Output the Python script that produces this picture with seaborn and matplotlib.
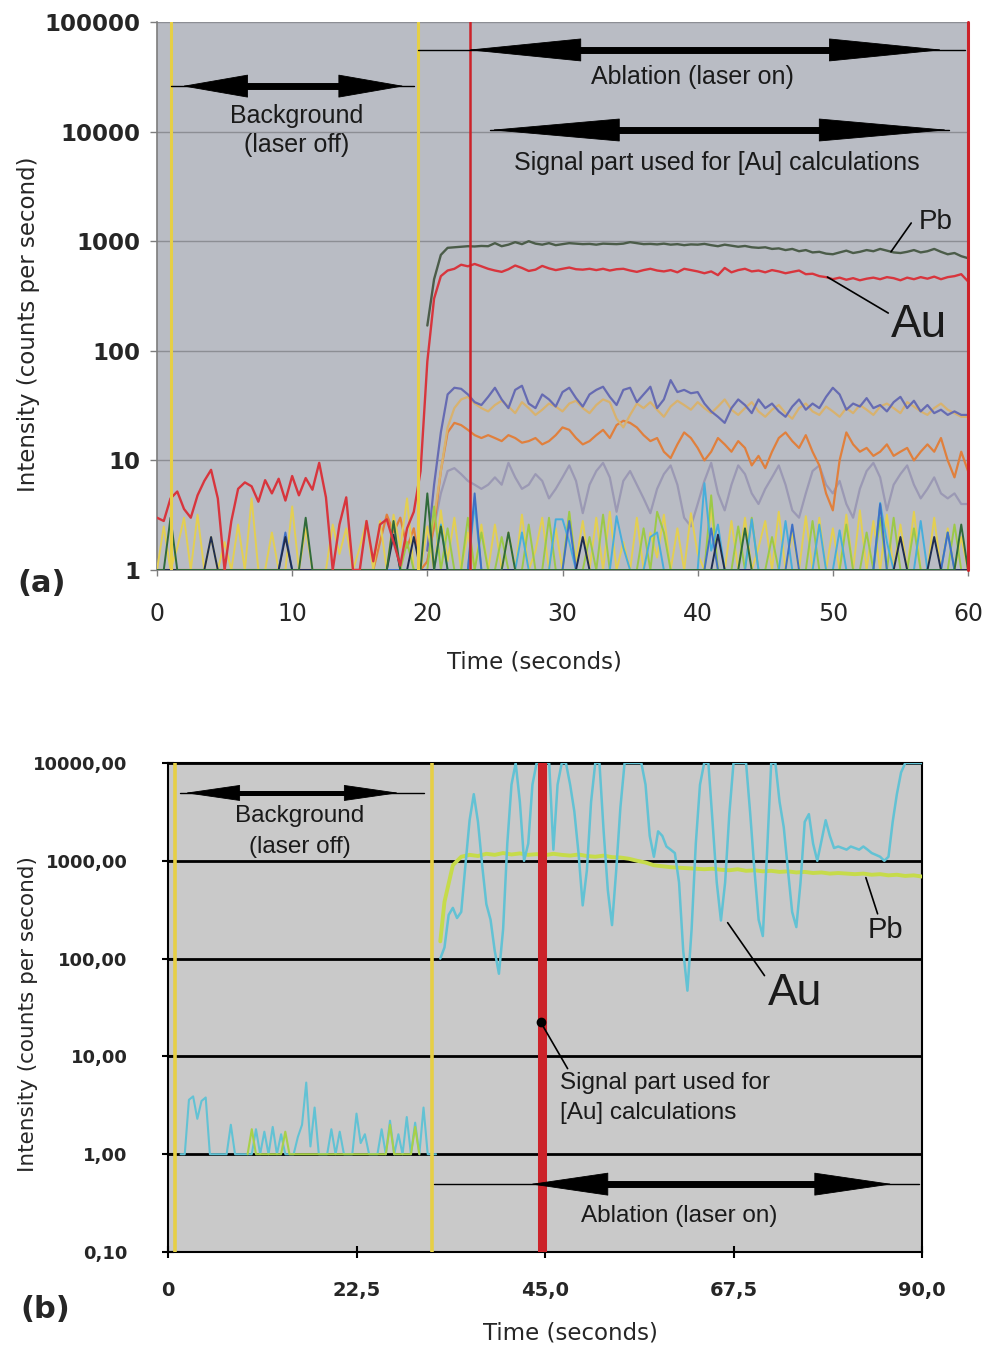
import numpy as np
import seaborn as sns
import matplotlib.pyplot as plt
from matplotlib.ticker import FixedLocator, NullLocator


# =========================
# Panel (a) data  (0.5 s samples)
# =========================

time_a = np.arange(0, 60.5, 0.5)        # 0 .. 60 s
time_a_on = np.arange(20, 60.5, 0.5)    # laser on part, 20 .. 60 s

au_a = [
    3.0, 2.8, 4.5, 5.2, 3.6, 3.0, 4.8, 6.5, 8.2, 4.5,
    1.0, 2.8, 5.5, 6.3, 5.8, 4.2, 6.6, 5.0, 6.8, 4.3,
    7.2, 4.8, 6.9, 5.4, 9.5, 4.6, 1.0, 2.6, 4.6, 1.0,
    1.0, 2.8, 1.2, 2.6, 2.9, 1.8, 1.1, 2.4, 3.4, 8.0,
    80, 300, 480, 540, 560, 610, 590, 620, 590, 560,
    540, 525, 555, 600, 570, 535, 550, 595, 565, 545,
    560, 575, 555, 550, 560, 545, 560, 540, 555, 560,
    540, 525, 545, 560, 540, 530, 545, 520, 560, 545,
    530, 510, 530, 490, 570, 520, 545, 560, 530, 540,
    520, 545, 530, 510, 525, 540, 500, 505, 480, 470,
    450, 465, 445, 460, 440, 455, 465, 450, 470, 460,
    440, 465, 450, 470, 455, 475, 450, 470, 480, 500,
    430,
]

pb_a = [
    170, 450, 750, 870, 880, 890, 900, 895, 905, 900,
    960, 900, 930, 980, 940, 1000, 950, 930, 960, 920,
    940, 960, 950, 940, 945, 930, 950, 945, 940, 950,
    980, 960, 940, 945, 935, 950, 930, 940, 920, 935,
    930, 945, 920, 900, 930, 910, 890, 905, 880, 870,
    880, 850, 860, 830, 850, 810, 830, 790, 800, 770,
    760, 790, 820, 780, 800, 830, 810, 850, 820, 790,
    780, 800, 830, 790, 810, 850, 800, 760, 780, 730,
    700,
]

slate_a = [
    1.5, 6, 18, 40, 46, 45, 40, 34, 32, 38,
    46, 36, 30, 44, 48, 33, 30, 40, 36, 31,
    42, 46, 37, 31, 40, 44, 47, 38, 32, 44,
    46, 34, 40, 47, 30, 36, 54, 42, 44, 41,
    42, 33, 28, 25, 22, 30, 36, 32, 27, 36,
    30, 33, 28, 25, 31, 36, 29, 33, 30, 38,
    46, 40, 29, 33, 31, 37, 30, 32, 28, 34,
    38, 30, 35, 28, 32, 27, 29, 26, 28, 26,
    26,
]

tan_a = [
    1.5, 3, 8, 20, 30, 36, 38, 33, 30, 28,
    32, 35, 31, 27, 34, 30, 26, 29, 33, 31,
    28, 33, 35, 30, 27, 32, 36, 34, 24, 20,
    26, 33, 30, 34, 29, 25, 31, 35, 32, 29,
    34, 30, 27, 31, 36, 29, 26, 30, 34, 28,
    25, 29, 32, 27, 24, 30, 33, 28, 26, 31,
    28, 25, 30, 27, 32, 29, 26, 31, 33, 30,
    27, 34, 31, 28, 26, 30, 33, 29, 27, 25,
    25,
]

orange_a = [
    1, 1, 1, 1, 1, 1, 1, 1, 1, 1,
    1, 1, 1, 1, 1, 1, 1, 1, 1, 1,
    1, 1, 1, 1, 1, 1, 1, 1, 1, 1,
    1, 1, 1, 1.8, 3.2, 2.2, 3.0, 1.6, 2.4, 1.0,
    1.2, 2.5, 8, 18, 22, 21, 19, 17, 16, 17,
    16, 15, 17, 16, 14.5, 15, 16, 14, 15, 17,
    20, 19, 16, 14, 15, 17, 19, 16, 21, 23,
    22, 20, 17, 15, 16, 12, 10.5, 14, 18, 16,
    13, 10, 12, 16, 14, 12, 15, 13, 9, 11,
    8.5, 12, 16, 18, 15, 13, 17, 12, 9, 5,
    3.5, 10, 18, 14, 12, 13, 11, 12, 14, 11,
    12, 13, 10, 12, 14, 12, 16, 10, 7, 12,
    8,
]

grey_a = [
    1.2, 2.5, 5, 8, 8.5, 7.5, 6.5, 6, 5.5, 6,
    7, 6, 9.5, 7, 5.5, 6, 7.5, 6.5, 4.5, 5.5,
    7, 9, 6.5, 3.3, 6, 8, 9.5, 7, 3.4, 6.5,
    8, 6, 4.5, 3.3, 5.5, 7.5, 9, 6, 3, 2.5,
    4, 6.5, 9.5, 5, 3.5, 6, 9, 7.5, 5, 4,
    5.5, 7, 9, 6, 3.5, 3, 5, 8, 9, 6,
    5, 6.5, 4, 3, 5.5, 8, 9.5, 7, 3.5, 6,
    7.5, 9, 6, 4.5, 5.5, 7, 5, 4.5, 5, 4,
    4,
]

# low-count elements (mostly at the 1 cps floor)
yellow_a = [
    1, 2.5, 1, 1.6, 3.0, 1, 3.2, 1, 2.0, 1,
    1.8, 1, 2.6, 1, 4.5, 1, 1, 2.2, 1, 1,
    3.8, 1, 2.4, 1, 1, 1, 2.6, 1.4, 2.4, 1,
    1.6, 2.8, 1, 2.8, 1, 3.2, 1.6, 4.5, 1, 1,
    2.5, 1, 3.5, 1.2, 3.0, 1, 2.2, 1, 2.6, 1,
    2.6, 1, 2.2, 1, 3.2, 1, 1.5, 3.0, 1, 2.4,
    1, 3.3, 1.2, 2.8, 1, 3.0, 1, 3.4, 1, 1.8,
    1, 3.0, 1, 2.2, 1.3, 3.2, 1, 2.4, 1, 3.3,
    1.4, 1, 3.6, 1, 1, 2.8, 1, 3.0, 1, 1.6,
    2.8, 1, 3.4, 1, 2.2, 1, 3.1, 1, 3.0, 1,
    2.4, 1, 3.2, 1, 3.5, 1, 2.8, 1, 3.2, 1,
    2.6, 1, 3.4, 1, 1, 3.0, 1, 2.4, 1, 2.0,
    1,
]

lime_a = [
    1, 1, 1, 1, 1, 1, 1, 1, 1, 1,
    1, 1, 1, 1, 1, 1, 1, 1, 1, 1,
    1, 1, 1, 1, 1, 1, 1, 1, 1, 1,
    1, 1, 1, 1, 1, 1, 1, 1.8, 1, 1,
    1, 3.8, 1, 2.4, 1, 1, 3.0, 1, 2.2, 1,
    1, 2.0, 1, 1, 1, 2.6, 1, 1, 3.0, 1,
    1, 3.4, 1, 1, 2.0, 1, 3.2, 1, 1, 1,
    1, 1, 2.4, 1, 3.4, 2.2, 1, 1, 1, 1,
    1, 1, 4.8, 1, 1, 1, 2.5, 1, 3.0, 1,
    1, 2.0, 1, 1, 1, 1, 1, 2.8, 1, 1,
    1, 1, 2.6, 1, 1, 2.2, 1, 3.0, 1, 3.0,
    1, 1, 2.4, 1, 1, 1, 1, 1, 2.6, 1,
    1,
]

cyan_a = [
    1, 1, 1, 1, 1, 1, 1, 1, 1, 1,
    1, 1, 1, 1, 1, 1, 1, 1, 1, 1,
    1, 1, 1, 1, 1, 1, 1, 1, 1, 1,
    1, 1, 1, 1, 1, 1, 1, 1, 1, 1,
    1, 1, 2.6, 1, 1, 1, 1, 4.0, 1, 1,
    1, 1, 1, 1, 2.2, 1, 1, 1, 1, 2.9,
    2.9, 1.8, 1, 1, 1, 1, 1, 1, 3.1, 1.6,
    1, 1, 1, 2.0, 2.2, 1, 1, 1, 1, 1,
    1, 6.2, 1.5, 2.6, 1, 1, 1, 1, 2.9, 1,
    1, 1, 1, 2.8, 1, 1, 1, 1, 2.6, 1,
    1, 2.3, 1, 1, 1, 1, 1, 4.1, 1.8, 1,
    1, 1, 1, 2.8, 1, 1, 1, 2.2, 1, 1,
    1,
]

blue_a = [
    1, 1, 1, 1, 1, 1, 1, 1, 1, 1,
    1, 1, 1, 1, 1, 1, 1, 1, 1, 2.2,
    1, 1, 1, 1, 1, 1, 1, 1, 1, 1,
    1, 1, 1, 1, 1, 1, 1, 1, 1, 1,
    1, 1, 1, 1, 1, 1, 1, 5.0, 1, 1,
    1, 1, 1, 1, 1, 1, 1, 1, 1, 1,
    1, 2.8, 1, 1, 1, 1, 1, 1, 1, 1,
    1, 1, 1, 1, 1, 1, 1, 1, 1, 1,
    1, 1, 2.4, 1, 1, 1, 1, 1, 1, 1,
    1, 1, 1, 1, 2.6, 1, 1, 1, 1, 1,
    1, 1, 1, 1, 1, 1, 1, 4.0, 1, 1,
    1, 1, 1, 1, 1, 1, 1, 2.2, 1, 1,
    1,
]

navy_a = [
    1, 1, 1, 1, 1, 1, 1, 1, 2.0, 1,
    1, 1, 1, 1, 1, 1, 1, 1, 1, 2.0,
    1, 1, 1, 1, 1, 1, 1, 1, 1, 1,
    1, 1, 1, 1, 1, 2.1, 1, 1, 2.0, 1,
    1, 1, 1, 1, 1, 1, 1, 1, 1, 1,
    1, 1, 1, 1, 1, 1, 1, 1, 1, 1,
    1, 1, 1, 2.0, 1, 1, 1, 1, 1, 1,
    1, 1, 1, 1, 1, 1, 1, 1, 1, 1,
    1, 1, 1, 2.1, 1, 1, 1, 1, 1, 1,
    1, 1, 1, 1, 1, 1, 1, 1, 1, 1,
    1, 1, 1, 1, 1, 1, 1, 1, 1, 1,
    2.0, 1, 1, 1, 1, 2.0, 1, 1, 1, 1,
    1,
]

dkgreen_a = [
    1, 1, 3.0, 1, 1, 1, 1, 1, 1, 1,
    1, 1, 1, 1, 1, 1, 1, 1, 1, 1,
    1, 1, 3.0, 1, 1, 1, 1, 1, 1, 1,
    1, 1, 1, 1, 1, 2.8, 1, 1, 1, 1,
    5.0, 1, 2.5, 1, 1, 1, 1, 1, 1, 1,
    1, 1, 2.2, 1, 1, 1, 1, 1, 1, 1,
    1, 1, 1, 1, 1, 1, 1, 1, 1, 1,
    1, 1, 1, 1, 1, 1, 1, 1, 1, 1,
    1, 1, 1, 1, 1, 1, 1, 2.4, 1, 1,
    1, 1, 1, 1, 1, 1, 1, 1, 1, 1,
    1, 1, 1, 1, 1, 1, 1, 1, 1, 1,
    1, 1, 1, 1, 1, 1, 1, 1, 1, 2.6,
    1,
]

y_ticks_a = [1, 10, 100, 1000, 10000, 100000]
y_labels_a = ["1", "10", "100", "1000", "10000", "100000"]
x_ticks_a = [0, 10, 20, 30, 40, 50, 60]


# =========================
# Panel (b) data
# =========================

time_b_bg = np.arange(1.5, 32.5, 0.5)     # background, laser off
time_b_on = np.arange(32.5, 90.5, 0.5)    # ablation

au_b_bg = [
    1, 1, 3.6, 3.9, 2.3, 3.5, 3.8, 1, 1, 1,
    1, 1, 2.0, 1, 1, 1, 1, 1, 1.8, 1,
    1.7, 1, 1.9, 1, 1.6, 1, 1, 1, 1.5, 2.0,
    5.4, 1.2, 3.0, 1, 1, 1, 1.8, 1, 1.7, 1,
    1, 1, 2.6, 1.3, 1.6, 1, 1, 1, 1.8, 1,
    2.2, 1, 1.6, 1, 2.4, 1, 2.1, 1, 3.0, 1,
    1, 1,
]

au_b_on = [
    100, 130, 280, 330, 260, 300, 900, 2600, 4800, 2500,
    900, 360, 250, 120, 70, 200, 1500, 6000, 10000, 4000,
    1000, 1500, 6000, 10000, 10000, 10000, 10000, 1300, 6000, 10000,
    10000, 6000, 3200, 1200, 350, 800, 4000, 10000, 10000, 2000,
    500, 220, 800, 3500, 10000, 10000, 10000, 10000, 10000, 6000,
    1800, 1100, 2000, 1800, 1400, 1300, 1200, 600, 120, 47,
    200, 1500, 6000, 10000, 10000, 2500, 600, 245, 600, 3000,
    10000, 10000, 10000, 10000, 3000, 800, 250, 170, 1200, 10000,
    10000, 4000, 2200, 800, 300, 210, 600, 2500, 3000, 1500,
    1000, 1600, 2600, 1800, 1350, 1400, 1350, 1300, 1400, 1350,
    1300, 1400, 1300, 1200, 1150, 1100, 1000, 1100, 2500, 4800,
    8000, 10000, 10000, 10000, 10000, 10000,
]

pb_b_bg_time = [9.5, 10.0, 10.5, 13.5, 14.0, 14.5, 26.0, 26.5, 27.0, 29.0, 29.5, 30.0]
pb_b_bg = [1, 1.8, 1, 1, 1.7, 1, 1, 2.0, 1, 1, 1.9, 1]

pb_b_time = [32.5] + list(range(33, 91))
pb_b_on = [
    150,
    380, 900, 1100, 1150, 1120, 1180, 1150, 1200, 1160, 1190,
    1150, 1170, 1140, 1180, 1150, 1130, 1160, 1120, 1100, 1130,
    1090, 1080, 1050, 1000, 960, 900, 880, 860, 850, 840,
    830, 820, 830, 810, 800, 820, 790, 800, 780, 790,
    770, 780, 760, 770, 750, 760, 740, 750, 740, 730,
    740, 720, 730, 710, 720, 700, 710, 690,
]

y_ticks_b = [0.1, 1, 10, 100, 1000, 10000]
y_labels_b = ["0,10", "1,00", "10,00", "100,00", "1000,00", "10000,00"]
x_ticks_b = [0, 22.5, 45, 67.5, 90]
x_labels_b = ["0", "22,5", "45,0", "67,5", "90,0"]


# =========================
# Style
# =========================

sns.set_theme(style="white")
plt.rcParams["font.family"] = ["DejaVu Sans"]
NOTE_FONT = ["Liberation Sans", "DejaVu Sans"]

YELLOW = "#e6cf45"
RED = "#cc2229"


def draw_trace(ax, t, v, color, lw=1.6, z=3):
    sns.lineplot(x=t, y=v, ax=ax, color=color, linewidth=lw,
                 estimator=None, errorbar=None, legend=False, zorder=z)


def double_arrow(ax, y, span, tips, head_px, half_px, shaft_lw):
    # thin guide line over the full span, thick shaft and two long heads
    px_per_unit = ax.bbox.width / (ax.get_xlim()[1] - ax.get_xlim()[0])
    head = head_px / px_per_unit
    ax.plot(span, [y, y], color="black", lw=1, zorder=6)
    ax.plot([tips[0] + 0.8 * head, tips[1] - 0.8 * head], [y, y],
            color="black", lw=shaft_lw, solid_capstyle="butt", zorder=6)
    pt = 72 / fig.dpi
    ax.annotate("", xy=(tips[1], y), xytext=(tips[0], y), zorder=6,
                arrowprops=dict(
                    arrowstyle=(f"<|-|>,head_length={head_px * pt / 10:.2f},"
                                f"head_width={half_px * pt / 10:.2f}"),
                    mutation_scale=10, lw=0.6, color="black",
                    shrinkA=0, shrinkB=0))


def note(ax, x, y, s, size=18, ha="center"):
    ax.text(x, y, s, ha=ha, va="center", fontsize=size,
            family=NOTE_FONT, color="#1a1a1a", zorder=7)


def leader(ax, p_from, p_to):
    ax.annotate("", xy=p_to, xytext=p_from, zorder=7,
                arrowprops=dict(arrowstyle="-", lw=1.2, color="black",
                                shrinkA=0, shrinkB=0))


fig = plt.figure(figsize=(9.89, 13.53), dpi=100)
ax_a = fig.add_axes([157 / 989, 1 - 570 / 1353, 811 / 989, 548 / 1353])
ax_b = fig.add_axes([168 / 989, 1 - 1252 / 1353, 754 / 989, 489 / 1353])


# =========================
# Panel (a)
# =========================

ax_a.set_yscale("log")

draw_trace(ax_a, time_a_on, grey_a, "#9b99b4")
draw_trace(ax_a, time_a, orange_a, "#e0803d")
draw_trace(ax_a, time_a_on, tan_a, "#d8b26e")
draw_trace(ax_a, time_a_on, slate_a, "#666bb2")
draw_trace(ax_a, time_a, yellow_a, "#e3cf52", lw=1.4)
draw_trace(ax_a, time_a, lime_a, "#9cc947", lw=1.4)
draw_trace(ax_a, time_a, cyan_a, "#47aedb", lw=1.4)
draw_trace(ax_a, time_a, blue_a, "#3f70c4", lw=1.4)
draw_trace(ax_a, time_a, navy_a, "#1f2d50", lw=1.4)
draw_trace(ax_a, time_a, dkgreen_a, "#2f6a3a", lw=1.4)
draw_trace(ax_a, time_a, au_a, "#d8353d", lw=1.7, z=4)
draw_trace(ax_a, time_a_on, pb_a, "#4b5c49", lw=1.7, z=4)

ax_a.axvline(1.0, color=YELLOW, lw=2.2, zorder=5)
ax_a.axvline(19.3, color=YELLOW, lw=2.2, zorder=5)
ax_a.axvline(23.15, color=RED, lw=1.8, zorder=5)
ax_a.axvline(60, color=RED, lw=2.2, zorder=5, clip_on=False)

ax_a.set_xlim(0, 60)
ax_a.set_ylim(1, 100000)
ax_a.set_facecolor("#b9bcc4")
ax_a.yaxis.set_major_locator(FixedLocator(y_ticks_a))
ax_a.yaxis.set_minor_locator(NullLocator())
ax_a.set_yticklabels(y_labels_a, fontweight="bold", fontsize=16.5)
ax_a.set_xticks(x_ticks_a)
ax_a.set_xticklabels([str(v) for v in x_ticks_a], fontsize=17)
ax_a.grid(axis="y", color="#8c8e94", lw=1)
ax_a.grid(axis="x", visible=False)
for side in ["top", "right"]:
    ax_a.spines[side].set_visible(False)
for side in ["left", "bottom"]:
    ax_a.spines[side].set_color("#7d7d7d")
    ax_a.spines[side].set_linewidth(1.2)
ax_a.tick_params(axis="y", left=True, length=5, width=1, color="#7d7d7d", pad=7)
ax_a.tick_params(axis="x", bottom=True, length=4, width=1, color="#7d7d7d", pad=19)

ax_a.set_ylabel("Intensity (counts per second)", fontsize=16.5)
ax_a.yaxis.set_label_coords(-0.159, 0.449)
ax_a.yaxis.label.set_verticalalignment("center")
ax_a.set_xlabel("Time (seconds)", fontsize=16.5)
ax_a.xaxis.set_label_coords(0.466, -0.146)

double_arrow(ax_a, 26000, [1.0, 19.0], [1.85, 18.3], 63, 11, 5)
double_arrow(ax_a, 55600, [19.3, 59.8], [22.9, 58.2], 110, 11, 5)
double_arrow(ax_a, 10340, [24.6, 58.6], [24.6, 58.6], 125, 11, 5)

note(ax_a, 10.3, 13870, "Background")
note(ax_a, 10.3, 7550, "(laser off)")
note(ax_a, 39.6, 31500, "Ablation (laser on)")
note(ax_a, 41.4, 5170, "Signal part used for [Au] calculations")

note(ax_a, 57.6, 1500, "Pb", size=20)
leader(ax_a, (55.8, 1466), (54.3, 800))
note(ax_a, 56.4, 172, "Au", size=33)
leader(ax_a, (54.1, 221), (49.6, 471))

fig.text(42 / 989, 1 - 583 / 1353, "(a)", ha="center", va="center",
         fontsize=22, fontweight="bold")


# =========================
# Panel (b)
# =========================

ax_b.set_yscale("log")

draw_trace(ax_b, time_b_bg, au_b_bg, "#62c2d4", lw=1.5)
draw_trace(ax_b, pb_b_bg_time, pb_b_bg, "#a8d048", lw=1.5)
draw_trace(ax_b, pb_b_time, pb_b_on, "#c6db4a", lw=2.8)
draw_trace(ax_b, time_b_on, au_b_on, "#62c2d4", lw=1.8, z=4)

ax_b.axvline(0.84, color=YELLOW, lw=2.6, zorder=5)
ax_b.axvline(31.5, color=YELLOW, lw=2.6, zorder=5)
ax_b.axvline(44.6, color=RED, lw=6.5, zorder=5)

ax_b.set_xlim(0, 90)
ax_b.set_ylim(0.1, 10000)
ax_b.set_facecolor("#c9c9c9")
ax_b.yaxis.set_major_locator(FixedLocator(y_ticks_b))
ax_b.yaxis.set_minor_locator(NullLocator())
ax_b.set_yticklabels(y_labels_b, fontweight="bold", fontsize=13)
ax_b.set_xticks(x_ticks_b)
ax_b.set_xticklabels(x_labels_b, fontweight="bold", fontsize=14)
ax_b.grid(axis="y", color="black", lw=2)
ax_b.grid(axis="x", visible=False)
for side in ["left", "bottom", "right", "top"]:
    ax_b.spines[side].set_color("black")
    ax_b.spines[side].set_linewidth(1.5)
ax_b.tick_params(axis="both", left=True, bottom=True, direction="inout",
                 length=8, width=1.5, color="black")
ax_b.tick_params(axis="y", pad=25)
ax_b.tick_params(axis="x", pad=17)

ax_b.set_ylabel("Intensity (counts per second)", fontsize=15.5)
ax_b.yaxis.set_label_coords(-0.186, 0.487)
ax_b.yaxis.label.set_verticalalignment("center")
ax_b.set_xlabel("Time (seconds)", fontsize=16.5)
ax_b.xaxis.set_label_coords(0.534, -0.143)

double_arrow(ax_b, 4940, [1.4, 30.5], [2.0, 27.6], 52, 7.5, 3.6)
double_arrow(ax_b, 0.494, [31.7, 89.6], [43.2, 86.5], 75, 11, 5)

note(ax_b, 15.75, 2880, "Background", size=17.5)
note(ax_b, 15.75, 1390, "(laser off)", size=17.5)
note(ax_b, 61.0, 0.233, "Ablation (laser on)", size=17.5)
note(ax_b, 46.8, 5.3, "Signal part used for", size=17.5, ha="left")
note(ax_b, 46.8, 2.62, "[Au] calculations", size=17.5, ha="left")
ax_b.plot([44.5], [22.3], marker="o", ms=6, color="black", zorder=8)
leader(ax_b, (44.5, 22.3), (47.7, 7.5))

note(ax_b, 74.8, 44, "Au", size=32)
leader(ax_b, (71.2, 67), (66.8, 233))
note(ax_b, 85.6, 194, "Pb", size=21)
leader(ax_b, (84.7, 287), (83.3, 673))

fig.text(45 / 989, 1 - 1310 / 1353, "(b)", ha="center", va="center",
         fontsize=22, fontweight="bold")

plt.savefig("out.png", dpi=100, facecolor="white")
